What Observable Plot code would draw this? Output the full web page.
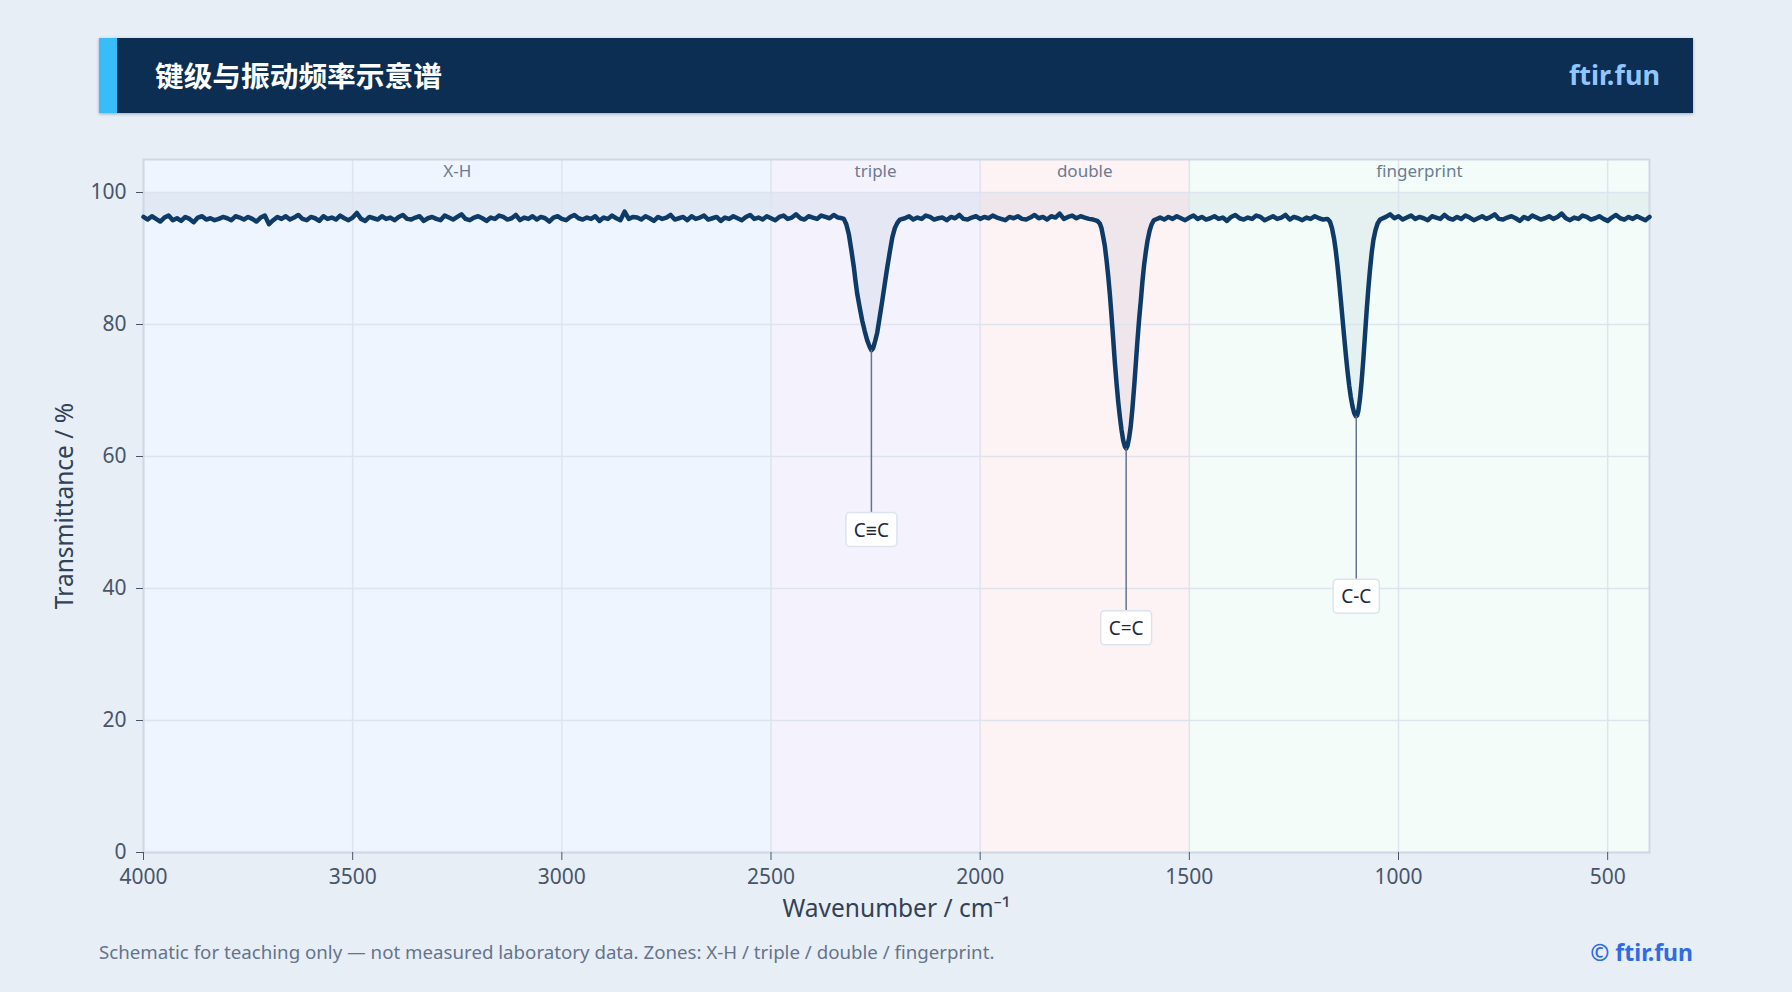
<!DOCTYPE html>
<html>
<head>
<meta charset="utf-8">
<script src="https://cdn.jsdelivr.net/npm/d3@7"></script>
<script src="https://cdn.jsdelivr.net/npm/@observablehq/plot@0.6"></script>
<style>
  html, body { margin: 0; padding: 0; }
  body { width: 1792px; height: 992px; background: #e8eef6; position: relative; overflow: hidden; font-family: "Noto Sans", "Open Sans", sans-serif; }
  #header { position: absolute; left: 99px; top: 38px; width: 1594px; height: 75px; background: #0b2e52; box-shadow: 0 1px 3px rgba(11,46,82,0.35); }
  #accent { position: absolute; left: 0; top: 0; width: 18px; height: 75px; background: #38bdf8; }
  #title { position: absolute; left: 56px; top: -1px; height: 75px; line-height: 75px; color: #ffffff; font-family: "Noto Sans CJK SC", sans-serif; font-weight: 700; font-size: 28.7px; }
  #brand { position: absolute; right: 33px; top: -1px; height: 75px; line-height: 75px; color: #93c5fd; font-weight: 700; font-size: 27px; }
  #chart { position: absolute; left: 0; top: 130px; }
  #caption { position: absolute; left: 99px; top: 939px; font-size: 18.7px; color: #64748b; line-height: 26px; white-space: nowrap; }
  #copy { position: absolute; right: 99px; top: 937px; font-size: 23px; font-weight: 700; color: #2f6be3; line-height: 30px; }
  g[aria-label="y-axis tick label"] text, g[aria-label="x-axis tick label"] text { fill: #475569; }
</style>
</head>
<body>
<div id="header"><div id="accent"></div><div id="title">键级与振动频率示意谱</div><div id="brand">ftir.fun</div></div>
<div id="chart"></div>
<div id="caption">Schematic for teaching only — not measured laboratory data. Zones: X-H / triple / double / fingerprint.</div>
<div id="copy">© ftir.fun</div>
<script>
// ---- Zones ----
const zoneNames = ["X-H", "triple", "double", "fingerprint"];
const zoneFrom = [4000, 2500, 2000, 1500];
const zoneTo = [2500, 2000, 1500, 400];
const zoneFill = ["#eef5fe", "#f4f3fd", "#fdf2f4", "#f3fcf9"];

// ---- Axis ticks ----
const xTicks = [4000, 3500, 3000, 2500, 2000, 1500, 1000, 500];
const yTicks = [0, 20, 40, 60, 80, 100];

const baselineStep = 10;
const baselineStarts = [4000, 2180, 1570, 1030];
const baselineA_T = [
  96.3, 95.9, 96.4, 96.0, 95.6, 96.2, 96.5, 95.8, 96.1, 95.7,
  96.3, 96.0, 95.5, 96.2, 96.4, 95.9, 96.1, 95.8, 96.0, 96.3,
  96.1, 95.8, 96.4, 96.2, 95.9, 96.3, 96.0, 95.6, 96.2, 96.5,
  95.2, 95.8, 96.3, 96.0, 96.4, 95.9, 96.2, 96.6, 96.0, 95.8,
  96.3, 96.1, 95.7, 96.4, 96.0, 96.2, 95.9, 96.5, 96.1, 95.8,
  96.2, 96.9, 96.0, 95.7, 96.3, 96.1, 95.9, 96.4, 96.0, 96.2,
  95.8, 96.3, 96.6, 96.0, 95.9, 96.2, 96.4, 95.7, 96.1, 96.3,
  96.0, 95.8, 96.5, 96.2, 95.9, 96.3, 96.7, 96.0, 95.8, 96.2,
  96.4, 96.1, 95.7, 96.2, 96.0, 96.5, 96.3, 95.9, 96.1, 96.6,
  95.8, 96.2, 96.0, 96.4, 95.9, 96.3, 96.1, 95.6, 96.2, 96.4,
  96.0, 95.8, 96.3, 96.6, 96.1, 95.9, 96.2, 96.0, 96.4, 95.7,
  96.2, 96.0, 96.5, 96.1, 95.8, 97.1, 96.0, 96.3, 96.2, 95.9,
  96.4, 96.1, 95.7, 96.3, 96.0, 96.2, 96.6, 95.9, 96.1, 96.3,
  95.8, 96.4, 96.0, 96.2, 96.5, 95.9, 96.1, 96.3, 95.7, 96.2,
  96.0, 96.4, 96.1, 95.8, 96.3, 96.6, 96.0, 96.2, 95.9, 96.4,
  96.1, 95.8, 96.3, 96.5, 96.0, 96.2, 96.7, 96.1, 95.9, 96.4,
  96.2, 96.0, 96.5, 96.3, 96.1, 96.6, 96.2, 96.1
];
const baselineB_T = [
  96.1, 96.4, 95.9, 96.2, 96.0, 96.5, 96.3, 95.9, 96.1, 96.2,
  95.8, 96.3, 96.1, 96.6, 96.0, 95.9, 96.2, 96.4, 96.0, 96.3,
  96.1, 96.5, 96.2, 96.0, 95.8, 96.3, 96.1, 96.4, 96.0, 95.9,
  96.2, 96.6, 96.1, 96.3, 95.9, 96.4, 96.2, 96.8, 96.0, 96.3,
  96.5, 96.1, 96.4, 96.2, 96.0, 95.9, 95.7
];
const baselineC_T = [
  96.2, 95.9, 96.3, 96.0, 96.4, 96.1, 95.8, 96.2, 96.5, 96.0,
  96.3, 95.9, 96.1, 96.4, 96.0, 96.2, 95.7, 96.3, 96.6, 96.1,
  95.9, 96.2, 96.0, 96.5, 96.3, 95.8, 96.1, 96.4, 96.0, 96.2,
  96.6, 95.9, 96.3, 96.1, 95.8, 96.2, 96.0, 96.4, 96.1, 95.9,
  96.0
];
const baselineD_T = [
  96.3, 96.7, 96.1, 96.4, 95.9, 96.2, 96.5, 96.0, 96.3, 96.1,
  95.8, 96.4, 96.2, 96.0, 96.6, 96.1, 95.9, 96.3, 96.0, 96.5,
  96.2, 95.8, 96.1, 96.4, 96.0, 96.3, 96.7, 96.0, 95.9, 96.2,
  96.4, 96.1, 95.7, 96.3, 96.0, 96.5, 96.2, 95.9, 96.1, 96.4,
  96.0, 96.3, 96.8, 96.1, 95.8, 96.2, 96.0, 96.5, 96.3, 95.9,
  96.1, 96.4, 96.0, 95.7, 96.2, 96.6, 96.1, 95.9, 96.3, 96.0,
  96.4, 96.1, 95.8, 96.3
];

// ---- Peaks ----
const peak1Wn = [2326, 2320, 2314, 2308, 2302, 2298, 2294, 2288, 2282, 2276, 2270, 2264, 2260, 2256, 2251, 2246, 2240, 2234, 2228, 2222, 2216, 2210, 2204, 2198, 2192];
const peak1T  = [96.0, 95.2, 93.7, 91.3, 88.7, 86.6, 84.7, 82.6, 80.6, 79.0, 77.6, 76.6, 76.1, 76.4, 77.5, 78.8, 81.2, 83.6, 86.2, 88.7, 91.0, 93.2, 94.6, 95.4, 95.9];
const peak2Wn = [1714, 1710, 1706, 1702, 1698, 1694, 1690, 1686, 1682, 1678, 1674, 1670, 1666, 1662, 1658, 1654, 1651, 1648, 1644, 1640, 1636, 1632, 1628, 1624, 1620, 1616, 1612, 1608, 1604, 1600, 1595, 1590, 1585];
const peak2T  = [95.3, 94.6, 93.3, 91.9, 89.8, 87.4, 84.6, 81.3, 77.8, 74.2, 71.1, 68.3, 66.0, 64.0, 62.4, 61.5, 61.2, 61.6, 62.8, 64.6, 67.3, 70.5, 74.0, 77.6, 80.8, 83.6, 86.6, 89.1, 91.0, 92.7, 94.2, 95.2, 95.8];
const peak3Wn = [1164, 1159, 1154, 1150, 1146, 1142, 1138, 1134, 1130, 1126, 1122, 1118, 1114, 1110, 1106, 1102, 1099, 1096, 1092, 1088, 1084, 1080, 1076, 1072, 1068, 1064, 1060, 1055, 1050, 1044];
const peak3T  = [95.6, 94.6, 93.0, 91.2, 89.0, 86.5, 83.8, 81.0, 78.2, 75.5, 73.0, 70.8, 69.0, 67.6, 66.6, 66.1, 66.2, 66.9, 68.8, 71.5, 74.8, 78.5, 82.2, 85.5, 88.4, 90.9, 92.8, 94.3, 95.3, 95.9];

// ---- Peak annotations ----
const peakLabels = ["C≡C", "C=C", "C-C"];
const peakWn = [2260, 1651, 1101];
const peakMinT = [76.1, 61.2, 66.1];
const labelT = [48.8, 33.9, 38.7];

// ---- Build tables ----
function baselineRows(start, values) {
  return values.map((t, i) => ({wn: start - i * baselineStep, t}));
}
function peakRows(wns, ts) { return wns.map((w, i) => ({wn: w, t: ts[i]})); }
const spectrum = [
  ...baselineRows(baselineStarts[0], baselineA_T),
  ...peakRows(peak1Wn, peak1T),
  ...baselineRows(baselineStarts[1], baselineB_T),
  ...peakRows(peak2Wn, peak2T),
  ...baselineRows(baselineStarts[2], baselineC_T),
  ...peakRows(peak3Wn, peak3T),
  ...baselineRows(baselineStarts[3], baselineD_T)
];
const zones = zoneNames.map((n, i) => ({name: n, from: zoneFrom[i], to: zoneTo[i], fill: zoneFill[i], mid: (zoneFrom[i] + zoneTo[i]) / 2}));
const peaks = peakLabels.map((l, i) => ({label: l, wn: peakWn[i], tmin: peakMinT[i], tl: labelT[i]}));

const chart = Plot.plot({
  width: 1792,
  height: 800,
  marginLeft: 143,
  marginRight: 143,
  marginTop: 29,
  marginBottom: 78,
  style: {fontFamily: "Noto Sans, Open Sans, sans-serif", fontSize: "21px", background: "transparent", color: "#475569", overflow: "visible"},
  x: {domain: [4000, 400]},
  y: {domain: [0, 105]},
  color: {type: "identity"},
  marks: [
    Plot.rect(zones, {x1: "from", x2: "to", y1: 0, y2: 105, fill: "fill"}),
    Plot.areaY(spectrum, {x: "wn", y1: 100, y2: "t", fill: "#0f3a63", fillOpacity: 0.06, curve: "linear"}),
    Plot.gridX(xTicks, {stroke: "#dde4ee", strokeOpacity: 1, strokeWidth: 1.5}),
    Plot.gridY(yTicks, {stroke: "#dde4ee", strokeOpacity: 1, strokeWidth: 1.5}),
    Plot.frame({stroke: "#cfd8e4", strokeWidth: 2}),
    Plot.axisX(xTicks, {tickFormat: d => String(d), tickSize: 8, tickPadding: 9, label: null, stroke: "#475569", fontSize: 21}),
    Plot.axisY(yTicks, {tickFormat: d => String(d), tickSize: 7, tickPadding: 10, label: null, stroke: "#475569", fontSize: 21}),
    Plot.text(zones, {x: "mid", y: 103.2, text: "name", fill: "#6b7b93", fontSize: 17, lineAnchor: "middle"}),
    Plot.line(spectrum, {x: "wn", y: "t", stroke: "#0d3a66", strokeWidth: 4.5, strokeLinejoin: "round", strokeLinecap: "round"}),
    Plot.ruleX(peaks, {x: "wn", y1: "tmin", y2: "tl", stroke: "#64748b", strokeWidth: 1.5}),
    Plot.text(peaks, {x: "wn", y: "tl", text: "label", fill: "#1e293b", fontSize: 19, lineAnchor: "middle"}),
    Plot.text(["Transmittance / %"], {frameAnchor: "left", dx: -78, rotate: -90, text: d => d, textAnchor: "middle", lineAnchor: "middle", fill: "#334155", fontSize: 24.5}),
    Plot.text(["Wavenumber / cm⁻¹"], {frameAnchor: "bottom", dy: 57, text: d => d, textAnchor: "middle", lineAnchor: "middle", fill: "#334155", fontSize: 24.5})
  ]
});
document.getElementById("chart").appendChild(chart);

// white rounded boxes behind the peak labels
const ns = "http://www.w3.org/2000/svg";
const labelSet = new Set(peakLabels);
Array.from(chart.querySelectorAll("text")).filter(t => labelSet.has(t.textContent)).forEach(t => {
  const b = t.getBBox();
  const r = document.createElementNS(ns, "rect");
  const px = 8, py = 4;
  r.setAttribute("x", b.x - px);
  r.setAttribute("y", b.y - py);
  r.setAttribute("width", b.width + 2 * px);
  r.setAttribute("height", b.height + 2 * py);
  r.setAttribute("rx", 4);
  r.setAttribute("fill", "#ffffff");
  r.setAttribute("stroke", "#dbe3ee");
  r.setAttribute("stroke-width", 1.5);
  if (t.getAttribute("transform")) r.setAttribute("transform", t.getAttribute("transform"));
  t.parentNode.insertBefore(r, t);
});
</script>
</body>
</html>
